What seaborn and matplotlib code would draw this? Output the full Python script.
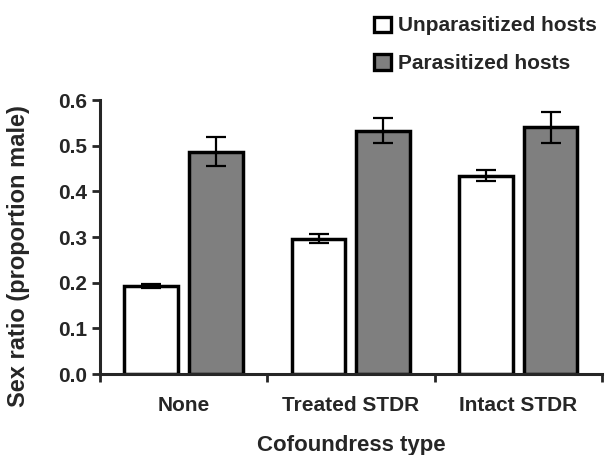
import pandas as pd
import matplotlib.pyplot as plt
import seaborn as sns
from matplotlib.patches import Patch

cofoundress = ["None", "Treated STDR", "Intact STDR"]
hosts = ["Unparasitized hosts", "Parasitized hosts"]
unparasitized = [0.193, 0.296, 0.434]
parasitized = [0.487, 0.533, 0.540]
unparasitized_se = [0.005, 0.010, 0.012]
parasitized_se = [0.032, 0.028, 0.034]

df = pd.DataFrame({
    "type": cofoundress * 2,
    "host": [hosts[0]] * 3 + [hosts[1]] * 3,
    "ratio": unparasitized + parasitized,
})

sns.set_style("ticks")
plt.rcParams["font.family"] = ["Liberation Sans", "DejaVu Sans"]
plt.rcParams["font.weight"] = "bold"

fig = plt.figure(figsize=(6.05, 4.55), dpi=100)
ax = fig.add_axes([0.165, 0.178, 0.83, 0.602])

sns.barplot(
    data=df, x="type", y="ratio", hue="host",
    order=cofoundress, hue_order=hosts,
    palette={hosts[0]: "white", hosts[1]: "#7f7f7f"},
    edgecolor="black", linewidth=2.5,
    width=0.772, gap=0.17, errorbar=None, legend=False, ax=ax,
)

# error bars at the bar centres
for cont, errs in zip(ax.containers, [unparasitized_se, parasitized_se]):
    xs = [b.get_x() + b.get_width() / 2 for b in cont]
    ys = [b.get_height() for b in cont]
    ax.errorbar(xs, ys, yerr=errs, fmt="none", ecolor="black",
                elinewidth=1.6, capsize=7, capthick=1.6, zorder=5)

ax.set_xlim(-0.5, 2.5)
ax.set_ylim(0, 0.6)
yt = [0.0, 0.1, 0.2, 0.3, 0.4, 0.5, 0.6]
ax.set_yticks(yt)
ax.set_yticklabels([f"{v:.1f}" for v in yt])

# tick marks between categories, labels centred on categories
ax.set_xticks([-0.5, 0.5, 1.5, 2.5])
ax.set_xticklabels([])
ax.set_xticks([0, 1, 2], minor=True)
ax.set_xticklabels(cofoundress, minor=True)
ax.tick_params(axis="x", which="minor", length=0, pad=16, labelsize=15)
ax.tick_params(axis="x", which="major", length=6, width=2)
ax.tick_params(axis="y", length=6, width=2, labelsize=15, pad=3)

for s in ["left", "bottom"]:
    ax.spines[s].set_linewidth(2.2)
sns.despine(ax=ax)

ax.set_xlabel("Cofoundress type", fontsize=16, fontweight="bold", labelpad=14)
ax.set_ylabel("Sex ratio (proportion male)", fontsize=17, fontweight="bold")
ax.yaxis.set_label_coords(-0.14, 0.43)

handles = [Patch(facecolor="white", edgecolor="black", linewidth=2.4),
           Patch(facecolor="#7f7f7f", edgecolor="black", linewidth=2.4)]
fig.legend(handles, hosts, loc="upper left", bbox_to_anchor=(0.588, 1.005),
           frameon=False, handlelength=0.8, handleheight=0.75,
           handletextpad=0.35, labelspacing=0.9,
           prop={"weight": "bold", "size": 15})

fig.savefig("out.png", dpi=100)
